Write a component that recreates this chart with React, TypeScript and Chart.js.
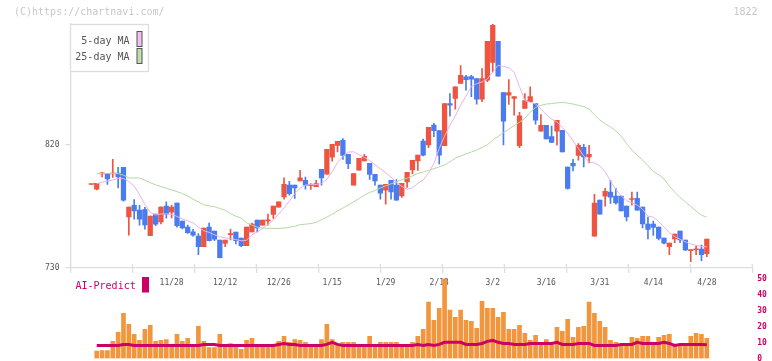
import React, { useEffect, useRef } from "react";
import { Chart, registerables } from "chart.js";
Chart.register(...registerables);

const xTickLabels = ["11/28", "12/12", "12/26", "1/15", "1/29", "2/13", "3/2", "3/16", "3/31", "4/14", "4/28"];
const xTickIndex = [15, 25, 35, 45, 55, 65, 75, 85, 95, 105, 115];
const priceTicks = [730, 820];
const volumeTicks = [0, 10, 20, 30, 40, 50];

const open = [790.9, 787.5, 798.7, 799.1, 798.6, 799.3, 803.5, 767.3, 775.8, 772.2,
  772.7, 753.5, 769.3, 763.7, 775.1, 770.7, 777.3, 764.2, 759.8, 756.4,
  753.3, 745.5, 759.8, 756.9, 750.4, 748.0, 754.4, 756.2, 751.8, 746.2,
  756.4, 764.9, 761.3, 764.4, 769.1, 774.4, 781.9, 790.4, 790.4, 793.5,
  794.0, 790.1, 789.4, 802.0, 798.4, 810.8, 819.5, 823.1, 812.9, 790.4,
  801.3, 808.1, 806.4, 798.4, 790.4, 786.7, 794.0, 790.4, 782.6, 792.8,
  801.5, 808.1, 822.6, 819.7, 834.3, 830.2, 819.3, 850.0, 853.7, 864.6,
  869.5, 869.7, 868.2, 853.2, 867.0, 879.9, 895.4, 858.0, 856.1, 853.7,
  819.3, 846.4, 851.3, 850.0, 829.9, 834.0, 825.8, 829.9, 830.4, 803.7,
  806.4, 812.2, 818.0, 811.0, 753.3, 779.5, 782.4, 785.3, 782.4, 782.4,
  775.1, 780.0, 780.9, 774.4, 762.0, 762.0, 759.8, 751.8, 745.5, 751.3,
  756.9, 750.4, 742.7, 743.3, 743.8, 740.4];

const high = [791.3, 791.8, 799.8, 799.1, 809.3, 803.5, 803.5, 774.4, 780.0, 775.8,
  774.2, 767.8, 769.3, 774.6, 778.2, 775.8, 777.3, 764.2, 761.3, 758.2,
  755.2, 759.1, 762.7, 756.9, 750.4, 750.4, 758.2, 756.2, 751.8, 759.8,
  762.7, 764.9, 764.9, 769.3, 775.1, 778.2, 795.7, 793.3, 790.4, 801.3,
  796.4, 791.6, 794.0, 802.0, 816.6, 820.2, 822.4, 824.4, 812.9, 798.9,
  810.0, 812.9, 806.4, 798.4, 790.4, 791.1, 794.0, 794.5, 791.8, 799.8,
  808.6, 812.4, 824.1, 832.6, 835.5, 830.2, 850.0, 857.3, 862.2, 877.7,
  870.6, 870.6, 868.2, 875.5, 895.4, 907.8, 895.4, 858.0, 867.5, 855.1,
  843.5, 857.3, 862.2, 850.0, 842.0, 834.0, 833.5, 837.7, 830.4, 803.7,
  809.3, 820.7, 820.2, 819.5, 783.8, 779.5, 788.2, 794.0, 788.2, 782.4,
  775.1, 785.3, 785.3, 774.4, 767.1, 764.2, 759.8, 751.8, 748.2, 754.7,
  756.9, 750.4, 743.2, 746.2, 746.7, 751.1];

const low = [790.9, 787.0, 796.4, 790.9, 796.0, 788.4, 778.7, 754.0, 765.6, 761.3,
  758.4, 753.5, 760.8, 762.2, 766.4, 766.6, 759.8, 758.6, 755.2, 753.3,
  739.7, 745.5, 749.8, 749.9, 737.4, 745.5, 750.4, 747.5, 745.5, 746.2,
  756.4, 756.4, 761.3, 761.3, 766.2, 774.4, 780.2, 783.1, 780.7, 793.5,
  787.5, 787.3, 789.4, 790.4, 798.4, 808.0, 814.6, 809.3, 802.5, 790.4,
  801.3, 808.1, 794.7, 790.4, 780.2, 776.6, 780.2, 779.5, 781.4, 788.7,
  798.6, 801.1, 811.7, 817.8, 825.8, 805.9, 819.3, 840.8, 845.9, 864.6,
  859.7, 854.9, 849.5, 851.3, 866.0, 873.1, 869.9, 819.7, 849.3, 841.5,
  817.8, 846.4, 851.3, 835.0, 829.9, 824.1, 821.7, 819.6, 814.6, 787.5,
  800.8, 808.6, 803.7, 806.6, 753.3, 769.3, 775.1, 777.1, 776.6, 771.7,
  764.4, 775.8, 772.2, 759.3, 751.3, 753.8, 750.4, 747.5, 739.7, 748.4,
  748.4, 742.6, 734.6, 739.7, 735.3, 738.2];

const close = [791.3, 791.8, 799.1, 795.0, 799.1, 796.4, 779.5, 774.4, 771.7, 765.6,
  761.5, 767.8, 762.0, 774.4, 769.3, 774.4, 760.8, 759.3, 755.7, 754.0,
  745.5, 759.1, 749.9, 751.1, 737.5, 750.4, 754.8, 749.9, 746.2, 759.8,
  762.0, 759.3, 764.9, 764.8, 775.1, 778.2, 791.1, 784.3, 788.4, 795.7,
  790.4, 790.5, 791.6, 795.7, 816.6, 820.2, 822.4, 812.2, 806.2, 798.9,
  810.0, 811.5, 798.2, 793.5, 784.6, 791.1, 785.5, 779.5, 791.8, 799.8,
  808.6, 812.4, 812.4, 832.6, 830.2, 812.4, 850.0, 848.8, 862.2, 870.6,
  867.3, 867.7, 853.2, 868.2, 895.4, 907.0, 869.9, 837.2, 858.0, 855.1,
  841.1, 852.2, 855.1, 837.9, 834.0, 824.1, 821.7, 837.7, 814.6, 788.0,
  804.4, 819.5, 811.0, 812.9, 777.3, 769.3, 786.0, 781.7, 777.5, 771.7,
  767.3, 780.4, 772.2, 762.2, 758.2, 759.6, 751.6, 748.2, 748.2, 754.7,
  750.4, 743.1, 743.1, 743.7, 739.7, 751.1];

const ma5 = [null,
  791.5, 792.6, 793.5, 794.2, 795.3, 795.3, 793.1, 789.7, 783.6, 776.3,
  770.7, 768.7, 769.4, 769.5, 769.1, 767.6, 765.8, 764.4, 762.9, 759.9,
  757.2, 756.0, 754.2, 752.8, 752.0, 751.4, 750.7, 749.9, 750.2, 754.3,
  756.2, 758.9, 761.8, 764.8, 769.3, 773.8, 778.8, 784.3, 788.2, 790.5,
  790.8, 790.9, 791.7, 794.7, 800.2, 807.0, 811.6, 814.6, 814.8, 812.6,
  810.7, 808.4, 805.4, 802.4, 799.5, 796.3, 792.6, 789.6, 787.4, 788.5,
  791.8, 794.2, 799.3, 806.2, 817.2, 826.2, 834.2, 840.9, 848.8, 855.3,
  862.4, 864.5, 865.7, 867.9, 872.9, 877.9, 877.0, 876.1, 872.8, 862.4,
  852.1, 850.9, 849.7, 846.0, 841.8, 838.6, 836.5, 832.6, 828.2, 822.8,
  817.2, 811.8, 807.2, 806.7, 804.5, 800.2, 793.4, 787.3, 782.7, 779.1,
  777.5, 775.9, 772.9, 767.9, 767.1, 764.0, 759.8, 755.8, 752.9, 751.0,
  749.1, 747.5, 746.5, 745.6, 745.5];

const ma25 = [null,
  798.9, 798.9, 798.9, 798.9, 798.9, 797.7, 795.7, 795.7, 795.7, 794.0,
  792.2, 790.7, 789.4, 788.2, 787.0, 785.7, 784.3, 782.5, 780.2, 778.2,
  776.2, 775.3, 774.7, 773.4, 772.0, 769.6, 767.8, 766.4, 762.9, 761.3,
  759.8, 759.1, 758.9, 758.9, 758.9, 759.1, 759.7, 760.4, 761.6, 762.0,
  762.4, 763.3, 765.2, 767.1, 769.2, 771.7, 773.7, 776.0, 778.2, 780.6,
  783.1, 785.1, 786.5, 788.4, 790.0, 791.4, 792.9, 794.3, 795.5, 797.2,
  799.0, 800.0, 801.2, 802.5, 803.8, 805.1, 807.4, 810.1, 811.7, 813.2,
  814.6, 816.0, 817.9, 819.9, 823.3, 826.0, 828.7, 831.2, 833.9, 836.4,
  839.1, 843.6, 847.1, 848.7, 849.6, 850.0, 850.4, 850.9, 850.3, 849.6,
  848.7, 847.7, 846.0, 841.7, 838.0, 835.2, 832.9, 830.0, 826.3, 820.8,
  816.1, 812.1, 808.8, 804.6, 800.4, 798.1, 795.0, 789.7, 785.4, 781.4,
  778.2, 774.9, 771.6, 768.5, 767.1];

const volume = [null,
  4.6, 5.0, 5.0, 10.7, 16.4, 28.3, 21.4, 15.1, 11.3, 18.2,
  20.7, 10.7, 11.3, 11.9, 8.2, 15.1, 10.7, 12.6, 8.2, 20.1,
  10.7, 6.9, 6.9, 15.1, 8.2, 9.4, 8.2, 5.7, 11.3, 12.6,
  8.2, 8.2, 8.2, 8.2, 10.7, 13.8, 10.1, 11.9, 11.3, 10.1,
  8.2, 8.2, 11.9, 21.4, 11.9, 8.2, 10.1, 10.1, 10.1, 8.2,
  7.5, 13.8, 8.2, 10.1, 10.1, 10.1, 10.1, 8.2, 8.2, 10.1,
  13.8, 18.2, 35.2, 23.9, 31.4, 50.0, 30.2, 25.8, 30.2, 23.9,
  23.3, 18.9, 35.8, 31.4, 31.4, 25.8, 28.9, 18.2, 18.2, 20.7,
  15.7, 11.3, 14.5, 8.2, 11.9, 8.8, 19.5, 17.0, 24.5, 13.2,
  19.5, 20.1, 35.2, 28.3, 23.3, 19.5, 11.3, 10.1, 8.8, 9.4,
  13.2, 12.6, 13.8, 13.8, 10.1, 13.2, 14.5, 15.1, 8.2, 8.8,
  9.4, 13.8, 15.7, 15.1, 12.6];

const predict = [null,
  8.2, 8.2, 8.2, 8.2, 8.2, 8.8, 8.8, 8.2, 8.2, 8.2,
  8.2, 8.2, 8.2, 8.2, 8.2, 8.2, 8.2, 8.2, 8.2, 8.2,
  8.8, 8.8, 8.8, 8.2, 8.2, 8.2, 8.2, 8.2, 8.2, 8.2,
  8.2, 8.2, 8.2, 8.2, 8.8, 9.4, 8.8, 8.8, 8.2, 8.2,
  8.2, 8.2, 8.2, 8.8, 10.1, 8.8, 8.2, 8.2, 8.2, 8.2,
  8.2, 8.2, 8.2, 8.2, 8.2, 8.2, 8.2, 8.2, 8.2, 8.2,
  8.8, 8.2, 8.8, 8.2, 8.8, 10.1, 10.1, 10.1, 10.1, 8.8,
  8.8, 8.8, 9.4, 10.7, 11.3, 10.1, 9.4, 9.4, 8.8, 8.8,
  8.8, 9.4, 9.4, 9.4, 9.4, 9.4, 10.1, 8.8, 8.8, 8.8,
  9.4, 9.4, 9.4, 8.2, 8.2, 8.2, 8.2, 8.2, 8.8, 8.8,
  8.8, 10.1, 9.4, 9.4, 9.4, 9.4, 10.1, 9.4, 8.2, 8.8,
  8.8, 8.8, 8.8, 8.8, 8.6];

const X_MIN = -3.9;
const X_MAX = 123.5;
const MONO = '"DejaVu Sans Mono", monospace';
const UP = "#ef5440";
const DOWN = "#4a7cf0";
const PINK = "#e8b2e8";
const GREEN = "#b3d9a3";
const ORANGE = "#f2963e";
const CRIMSON = "#cc0066";
const AXIS = "#dddddd";

const decorPlugin = {
  id: "decor",
  afterDraw(chart: any) {
    const ctx = chart.ctx;
    const xs = chart.scales.x;
    const area = chart.chartArea;
    ctx.save();
    ctx.strokeStyle = AXIS;
    ctx.lineWidth = 1.3;
    xs.ticks.forEach((t: any) => {
      const px = xs.getPixelForValue(t.value);
      ctx.beginPath();
      ctx.moveTo(px, area.bottom - 4);
      ctx.lineTo(px, area.bottom);
      ctx.stroke();
    });
    ctx.font = `10px ${MONO}`;
    ctx.textBaseline = "middle";
    ctx.fillStyle = "#c8c8c8";
    ctx.textAlign = "left";
    ctx.fillText("(C)https://chartnavi.com/", 14, 12.5);
    ctx.textAlign = "right";
    ctx.fillText("1822", 757.5, 12.5);
    ctx.fillStyle = "#ffffff";
    ctx.fillRect(70.5, 24.5, 78, 47);
    ctx.strokeStyle = AXIS;
    ctx.lineWidth = 1.3;
    ctx.strokeRect(70.5, 24.5, 78, 47);
    ctx.fillStyle = "#555555";
    ctx.textAlign = "right";
    ctx.fillText("5-day MA", 129.5, 41);
    ctx.fillText("25-day MA", 129.5, 57);
    ctx.lineWidth = 1;
    ctx.strokeStyle = "#555555";
    ctx.fillStyle = "#f0c0f0";
    ctx.fillRect(137, 31.5, 5, 15);
    ctx.strokeRect(137, 31.5, 5, 15);
    ctx.fillStyle = "#c0e0b0";
    ctx.fillRect(137, 48.5, 5, 15);
    ctx.strokeRect(137, 48.5, 5, 15);
    ctx.fillStyle = CRIMSON;
    ctx.textAlign = "left";
    ctx.fillText("AI-Predict", 75.5, 286.5);
    ctx.fillRect(142, 277, 7, 15.5);
    ctx.restore();
  },
};

export default function App() {
  const priceRef = useRef<HTMLCanvasElement | null>(null);
  const volRef = useRef<HTMLCanvasElement | null>(null);

  useEffect(() => {
    const idx = open.map((_, i) => i);
    const colors = idx.map((i) => (close[i] >= open[i] ? UP : DOWN));

    const priceChart = new Chart(priceRef.current as HTMLCanvasElement, {
      type: "bar",
      data: {
        datasets: [
          {
            type: "line",
            data: idx.map((i) => ({ x: i, y: ma5[i] })),
            borderColor: PINK,
            borderWidth: 1,
            pointRadius: 0,
            order: 0,
          } as any,
          {
            type: "line",
            data: idx.map((i) => ({ x: i, y: ma25[i] })),
            borderColor: GREEN,
            borderWidth: 1,
            pointRadius: 0,
            order: 0,
          } as any,
          {
            type: "bar",
            data: idx.map((i) => ({ x: i, y: [open[i], close[i]] })),
            backgroundColor: colors,
            barThickness: 4.6,
            grouped: false,
            minBarLength: 1,
            order: 1,
          } as any,
          {
            type: "bar",
            data: idx.map((i) => ({ x: i, y: [low[i], high[i]] })),
            backgroundColor: colors,
            barThickness: 1,
            grouped: false,
            order: 2,
          } as any,
        ],
      },
      options: {
        responsive: false,
        animation: false,
        devicePixelRatio: 1,
        layout: { padding: { left: 0, right: 19.7, top: 24, bottom: 0 } },
        plugins: { legend: { display: false }, tooltip: { enabled: false } },
        scales: {
          x: {
            type: "linear",
            position: "bottom",
            offset: false,
            min: X_MIN,
            max: X_MAX,
            weight: 0,
            afterFit: (s: any) => {
              s.height = 0;
            },
            afterBuildTicks: (s: any) => {
              s.ticks = Array.from({ length: 12 }, (_, k) => ({ value: X_MIN + (k * (X_MAX - X_MIN)) / 11 }));
            },
            ticks: { display: false },
            grid: { drawOnChartArea: false, tickLength: 5, color: AXIS, lineWidth: 1.3, offset: false },
            border: { color: AXIS, width: 1.3 },
          },
          xl: {
            type: "linear",
            position: "bottom",
            offset: false,
            min: X_MIN,
            max: X_MAX,
            weight: 1,
            afterFit: (s: any) => {
              s.height = 32;
            },
            afterBuildTicks: (s: any) => {
              s.ticks = xTickIndex.map((v) => ({ value: v }));
            },
            ticks: {
              autoSkip: false,
              maxRotation: 0,
              padding: 10,
              color: "#555555",
              font: { family: MONO, size: 8 },
              callback: (v: any) => {
                const k = xTickIndex.indexOf(Number(v));
                return k >= 0 ? xTickLabels[k] : "";
              },
            },
            grid: { display: false, drawTicks: false, offset: false },
            border: { display: false },
          },
          y: {
            position: "left",
            min: 730,
            max: 908,
            afterFit: (s: any) => {
              s.width = 70.5;
            },
            afterBuildTicks: (s: any) => {
              s.ticks = priceTicks.map((v) => ({ value: v }));
            },
            ticks: {
              padding: 6,
              color: "#555555",
              font: { family: MONO, size: 8 },
              callback: (v: any) => String(v),
            },
            grid: { drawOnChartArea: false, tickLength: 5, color: AXIS, lineWidth: 1.3 },
            border: { color: AXIS, width: 1.3 },
          },
        },
      } as any,
      plugins: [decorPlugin],
    });

    const volChart = new Chart(volRef.current as HTMLCanvasElement, {
      type: "bar",
      data: {
        datasets: [
          {
            type: "line",
            data: idx.map((i) => ({ x: i, y: predict[i] })),
            borderColor: CRIMSON,
            borderWidth: 3,
            pointRadius: 0,
            order: 0,
          } as any,
          {
            type: "bar",
            data: idx.filter((i) => volume[i] !== null).map((i) => ({ x: i, y: volume[i] })),
            backgroundColor: ORANGE,
            barThickness: 4,
            grouped: false,
            order: 1,
          } as any,
        ],
      },
      options: {
        responsive: false,
        animation: false,
        devicePixelRatio: 1,
        layout: { autoPadding: false, padding: { left: 70.5, right: 0, top: 8.5, bottom: 2.5 } },
        plugins: { legend: { display: false }, tooltip: { enabled: false } },
        scales: {
          x: {
            type: "linear",
            position: "bottom",
            min: X_MIN,
            max: X_MAX,
            offset: false,
            afterFit: (s: any) => {
              s.height = 0;
            },
            ticks: { display: false },
            grid: { display: false, drawTicks: false, offset: false },
            border: { display: false },
          },
          y: {
            position: "right",
            min: 0,
            max: 50,
            afterFit: (s: any) => {
              s.width = 19.7;
              s.paddingTop = 0;
              s.paddingBottom = 0;
            },
            afterBuildTicks: (s: any) => {
              s.ticks = volumeTicks.map((v) => ({ value: v }));
            },
            ticks: {
              padding: 5,
              color: CRIMSON,
              font: { family: MONO, size: 8, weight: "bold" },
            },
            grid: { display: false, drawTicks: false },
            border: { display: false },
          },
        },
      } as any,
    });

    return () => {
      priceChart.destroy();
      volChart.destroy();
    };
  }, []);

  return (
    <div style={{ position: "fixed", left: 0, top: 0, width: 772, height: 361, background: "#ffffff" }}>
      <canvas ref={priceRef} width={772} height={300} style={{ position: "absolute", left: 0, top: 0 }} />
      <canvas ref={volRef} width={772} height={91} style={{ position: "absolute", left: 0, top: 270 }} />
    </div>
  );
}
